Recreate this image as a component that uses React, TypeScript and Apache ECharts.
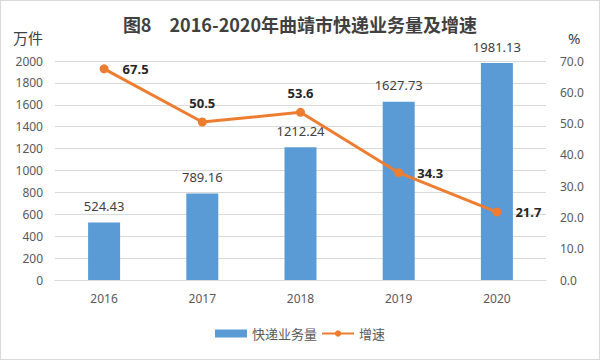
import React, { useEffect, useRef } from "react";
import * as echarts from "echarts";

const years = ["2016", "2017", "2018", "2019", "2020"];
const volume = [524.43, 789.16, 1212.24, 1627.73, 1981.13];
const growth = [67.5, 50.5, 53.6, 34.3, 21.7];

export default function App() {
  const ref = useRef<HTMLDivElement>(null);
  useEffect(() => {
    document.body.style.margin = "0";
    const chart = echarts.init(ref.current!, null, { renderer: "svg" });
    const labelPos = ["right", "top", "top", "right", "right"];
    chart.setOption({
      animation: false,
      backgroundColor: "#ffffff",
      textStyle: { fontFamily: "'Noto Sans', 'Noto Sans CJK SC', sans-serif" },
      title: {
        text: "图8　2016-2020年曲靖市快递业务量及增速",
        left: "center",
        top: 9,
        textStyle: {
          fontFamily: "'Noto Sans CJK SC', serif",
          fontSize: 18,
          fontWeight: "bold",
          color: "#404040",
        },
      },
      grid: { left: 54, right: 53, top: 60, bottom: 79 },
      legend: {
        bottom: 14,
        left: "center",
        itemWidth: 32,
        itemHeight: 8,
        itemGap: 4,
        textStyle: { fontSize: 13, color: "#595959", fontFamily: "'Noto Sans CJK SC', sans-serif" },
        data: [
          { name: "快递业务量", icon: "rect" },
          { name: "增速" },
        ],
      },
      xAxis: {
        type: "category",
        data: years,
        axisTick: { show: false },
        axisLine: { lineStyle: { color: "#d9d9d9" } },
        axisLabel: { color: "#595959", fontSize: 12, margin: 12 },
      },
      yAxis: [
        {
          type: "value",
          min: 0,
          max: 2000,
          interval: 200,
          name: "万件",
          nameLocation: "end",
          nameGap: 16,
          nameTextStyle: { color: "#404040", fontSize: 15, align: "right", padding: [0, 12, 0, 0], fontFamily: "'Noto Sans CJK SC', sans-serif" },
          axisLine: { show: false },
          axisTick: { show: false },
          axisLabel: { color: "#595959", fontSize: 12, margin: 12, formatter: (v: number) => String(v) },
          splitLine: { lineStyle: { color: "#d9d9d9" } },
        },
        {
          type: "value",
          min: 0,
          max: 70,
          interval: 10,
          name: "%",
          nameLocation: "end",
          nameGap: 16,
          nameTextStyle: { color: "#404040", fontSize: 15, align: "left", padding: [0, 0, 0, 22] },
          axisLine: { show: false },
          axisTick: { show: false },
          axisLabel: { color: "#595959", fontSize: 12, margin: 14, formatter: (v: number) => v.toFixed(1) },
          splitLine: { show: false },
        },
      ],
      series: [
        {
          name: "快递业务量",
          type: "bar",
          data: volume,
          barWidth: 32,
          itemStyle: { color: "#5B9BD5" },
          label: {
            show: true,
            position: "top",
            color: "#404040",
            fontSize: 13,
            distance: 10,
            formatter: (p: any) => p.value.toFixed(2),
          },
        },
        {
          name: "增速",
          type: "line",
          yAxisIndex: 1,
          data: growth.map((v, i) => ({
            value: v,
            label: { position: labelPos[i] as any, distance: labelPos[i] === "right" ? 14 : 8 },
          })),
          symbol: "circle",
          symbolSize: 9,
          lineStyle: { color: "#ED7D31", width: 3 },
          itemStyle: { color: "#ED7D31" },
          label: {
            show: true,
            color: "#262626",
            fontWeight: "bold",
            fontSize: 13,
            formatter: (p: any) => p.value.toFixed(1),
          },
        },
      ],
    });
    return () => chart.dispose();
  }, []);
  return (
    <div
      style={{
        position: "fixed",
        left: 0,
        top: 0,
        width: 600,
        height: 360,
        boxSizing: "border-box",
        border: "1px solid #d9d9d9",
      }}
    >
      <div ref={ref} style={{ width: 598, height: 358 }} />
    </div>
  );
}
